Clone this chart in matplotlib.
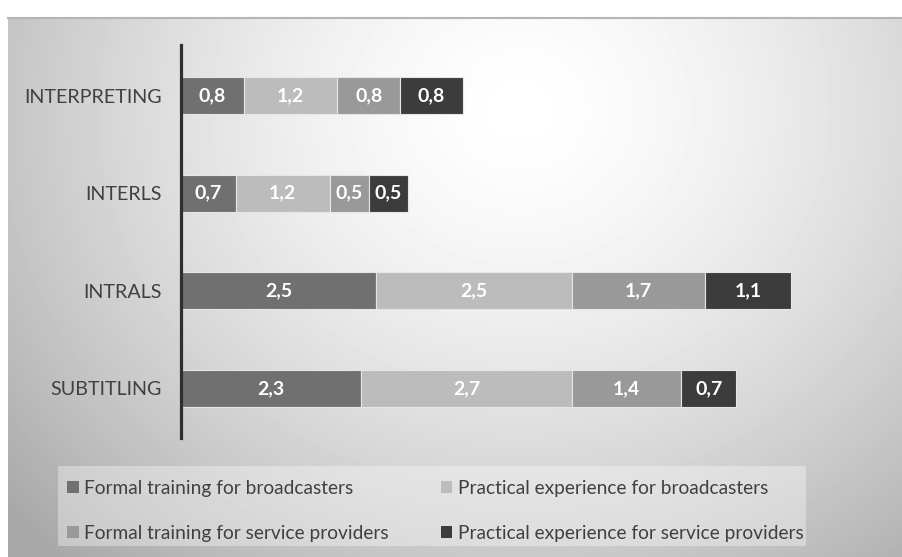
import numpy as np
import matplotlib.pyplot as plt
from matplotlib.patches import Rectangle

# Данные
categories = ["SUBTITLING", "INTRALS", "INTERLS", "INTERPRETING"]
series = [
    "Formal training for broadcasters",
    "Practical experience for broadcasters",
    "Formal training for service providers",
    "Practical experience for service providers",
]
formal_broad = [2.3, 2.5, 0.7, 0.8]
practical_broad = [2.7, 2.5, 1.2, 1.2]
formal_prov = [1.4, 1.7, 0.5, 0.8]
practical_prov = [0.7, 1.1, 0.5, 0.8]
colors = ["#707070", "#bcbcbc", "#999999", "#3c3c3c"]

plt.rcParams["font.family"] = ["Lato", "DejaVu Sans"]

W, H = 903, 557
fig = plt.figure(figsize=(W / 100, H / 100), dpi=100)

# Фон с радиальным градиентом
bg = fig.add_axes([8 / W, 0, (W - 8) / W, (H - 17) / H], zorder=-10)
xx, yy = np.meshgrid(np.arange(8, W), np.arange(17, H))
d = np.sqrt(((xx - 520) / 520) ** 2 + ((yy - 110) / 470) ** 2)
shade = 1.0 - 0.23 * np.clip(d, 0, 1.3) ** 1.5
bg.imshow(shade, cmap="gray", vmin=0, vmax=1, aspect="auto", interpolation="bilinear")
bg.axis("off")
fig.add_artist(plt.Line2D([8 / W, 1], [(H - 17.5) / H] * 2, color="#b5b5b5", lw=1.5))

# Область графика
ax = fig.add_axes([181 / W, (H - 438) / H, 8 * 78.2 / W, (438 - 45) / H])
ax.patch.set_alpha(0)
y = np.arange(len(categories))
left = np.zeros(len(categories))
for name, vals, c in zip(series, [formal_broad, practical_broad, formal_prov, practical_prov], colors):
    vals = np.array(vals)
    bars = ax.barh(y, vals, left=left, height=0.38, color=c, edgecolor="#e6e6e6", linewidth=0.8, label=name)
    for b, v in zip(bars, vals):
        ax.text(b.get_x() + b.get_width() / 2, b.get_y() + b.get_height() / 2,
                f"{v:.1f}".replace(".", ","), ha="center", va="center",
                color="white", fontsize=14, fontweight="bold")
    left += vals

ax.set_xlim(0, 8)
ax.set_ylim(-0.51, 3.52)
ax.set_yticks(y)
ax.set_yticklabels(categories, fontsize=14.2, color="#404040")
ax.tick_params(axis="y", length=0, pad=14)
ax.set_xticks([])
for s in ["top", "right", "bottom"]:
    ax.spines[s].set_visible(False)
ax.spines["left"].set_color("#2f2f2f")
ax.spines["left"].set_linewidth(2.3)

# Легенда (по строкам, как в Excel)
handles, labels = ax.get_legend_handles_labels()
order = [0, 2, 1, 3]
leg = fig.legend([handles[i] for i in order], [labels[i] for i in order], ncol=2,
                 loc="center left", bbox_to_anchor=(67 / W, (H - 511) / H),
                 frameon=False, borderpad=0, borderaxespad=0,
                 fontsize=13.8, handlelength=0.6, handleheight=0.6, handletextpad=0.3,
                 columnspacing=2.7, labelspacing=1.45, labelcolor="#404040")
for h in leg.legend_handles:
    h.set_edgecolor("none")

# Светлая подложка под легендой
fig.canvas.draw()
bb = leg.get_window_extent()
fig.add_artist(Rectangle((58 / W, (H - 546) / H), (bb.x1 + 2 - 58) / W, 80 / H,
                         transform=fig.transFigure, facecolor="white", alpha=0.35,
                         edgecolor="none", zorder=0))

fig.savefig("out.png", dpi=100, facecolor="white")
